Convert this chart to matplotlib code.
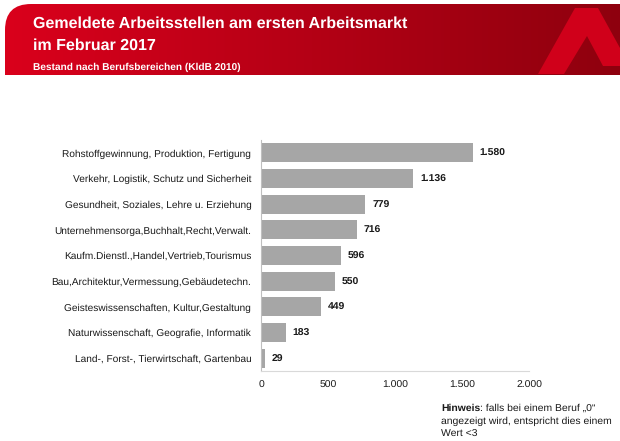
import numpy as np
import matplotlib
matplotlib.use("Agg")
import matplotlib.pyplot as plt
from matplotlib.path import Path
from matplotlib.patches import PathPatch, Polygon

plt.rcParams['font.family'] = ['Liberation Sans', 'DejaVu Sans']
plt.rcParams['text.hinting'] = 'no_hinting'

# Data
categories = [
    "Rohstoffgewinnung, Produktion, Fertigung",
    "Verkehr, Logistik, Schutz und Sicherheit",
    "Gesundheit, Soziales, Lehre u. Erziehung",
    "Unternehmensorga,Buchhalt,Recht,Verwalt.",
    "Kaufm.Dienstl.,Handel,Vertrieb,Tourismus",
    "Bau,Architektur,Vermessung,Gebäudetechn.",
    "Geisteswissenschaften, Kultur,Gestaltung",
    "Naturwissenschaft, Geografie, Informatik",
    "Land-, Forst-, Tierwirtschaft, Gartenbau",
]
values = [1580, 1136, 779, 716, 596, 550, 449, 183, 29]
xticks = [0, 500, 1000, 1500, 2000]
xtick_labels = ["0", "500", "1.000", "1.500", "2.000"]

title_1 = "Gemeldete Arbeitsstellen am ersten Arbeitsmarkt"
title_2 = "im Februar 2017"
subtitle = "Bestand nach Berufsbereichen (KldB 2010)"


def de_fmt(v):
    return f"{v:,}".replace(",", ".")


W, H = 620, 441
fig = plt.figure(figsize=(W / 100, H / 100), dpi=100)
fig.patch.set_facecolor("white")

# background axes in pixel coordinates for the header
bg = fig.add_axes([0, 0, 1, 1], zorder=0)
bg.set_xlim(0, W)
bg.set_ylim(H, 0)
bg.axis("off")

# header band with rounded top-left corner and red gradient
x0, x1, y0, y1, r = 5, W, 4, 75, 26
verts = [(x0, y1), (x0, y0 + r), (x0, y0), (x0 + r, y0), (x1, y0), (x1, y1), (x0, y1)]
codes = [Path.MOVETO, Path.LINETO, Path.CURVE3, Path.CURVE3, Path.LINETO, Path.LINETO, Path.CLOSEPOLY]
band = PathPatch(Path(verts, codes), facecolor="none", edgecolor="none")
bg.add_patch(band)
left_col = np.array([218, 0, 28]) / 255
right_col = np.array([142, 0, 14]) / 255
t = np.linspace(0, 1, 256)
grad = (left_col[None, :] * (1 - t[:, None]) + right_col[None, :] * t[:, None])[None, :, :]
im = bg.imshow(grad, extent=(x0, x1, y1, y0), aspect="auto", interpolation="bilinear")
im.set_clip_path(band)
bg.set_xlim(0, W)
bg.set_ylim(H, 0)

# logo shape at the right of the header
bg.add_patch(Polygon([(538, 74), (575, 8), (598, 8), (620, 48), (620, 66), (603, 66),
                      (587, 36), (564, 74)],
                     closed=True, facecolor="#d0001a", edgecolor="none"))

bg.text(33, 28, title_1, color="white", fontsize=11.5, fontweight="bold", va="baseline")
bg.text(33, 50, title_2, color="white", fontsize=11.5, fontweight="bold", va="baseline")
bg.text(33, 70, subtitle, color="white", fontsize=7.3, fontweight="bold", va="baseline")

# main bar chart
ax = fig.add_axes([261 / W, 1 - 371 / H, 268 / W, 231 / H], zorder=1)
ax.patch.set_alpha(0)
y = np.arange(len(categories))
ax.barh(y, values, height=0.74, color="#a6a6a6")
ax.set_ylim(len(categories) - 0.5, -0.5)
ax.set_xlim(0, 2000)
ax.set_yticks(y)
ax.set_yticklabels(categories, fontsize=7.25, color="#1a1a1a")
ax.set_xticks(xticks)
ax.set_xticklabels(xtick_labels, fontsize=7.5, color="#1a1a1a")
ax.tick_params(axis="both", length=0)
ax.tick_params(axis="y", pad=7)
ax.tick_params(axis="x", pad=7)
for side in ["top", "right"]:
    ax.spines[side].set_visible(False)
ax.spines["left"].set_color("#bfbfbf")
ax.spines["bottom"].set_color("#d9d9d9")
ax.spines["left"].set_linewidth(0.8)
ax.spines["bottom"].set_linewidth(0.8)

for yi, v in zip(y, values):
    ax.annotate(de_fmt(v), (v, yi), xytext=(5, -0.5), textcoords="offset points",
                va="center", ha="left", fontsize=7.5, fontweight="bold", color="#1a1a1a")

# note at the bottom right
note_x = 441
h = bg.text(note_x, 411, "Hinweis", fontsize=7.5, fontweight="bold", color="#1a1a1a", va="baseline")
renderer = fig.canvas.get_renderer()
bb = h.get_window_extent(renderer=renderer)
bg.text(note_x + bb.width, 411, ": falls bei einem Beruf \u201e0\u201c", fontsize=7.5,
        color="#1a1a1a", va="baseline")
bg.text(note_x, 424, "angezeigt wird, entspricht dies einem", fontsize=7.5,
        color="#1a1a1a", va="baseline")
bg.text(note_x, 437, "Wert <3", fontsize=7.5, color="#1a1a1a", va="baseline")

fig.savefig("out.png", dpi=100)
